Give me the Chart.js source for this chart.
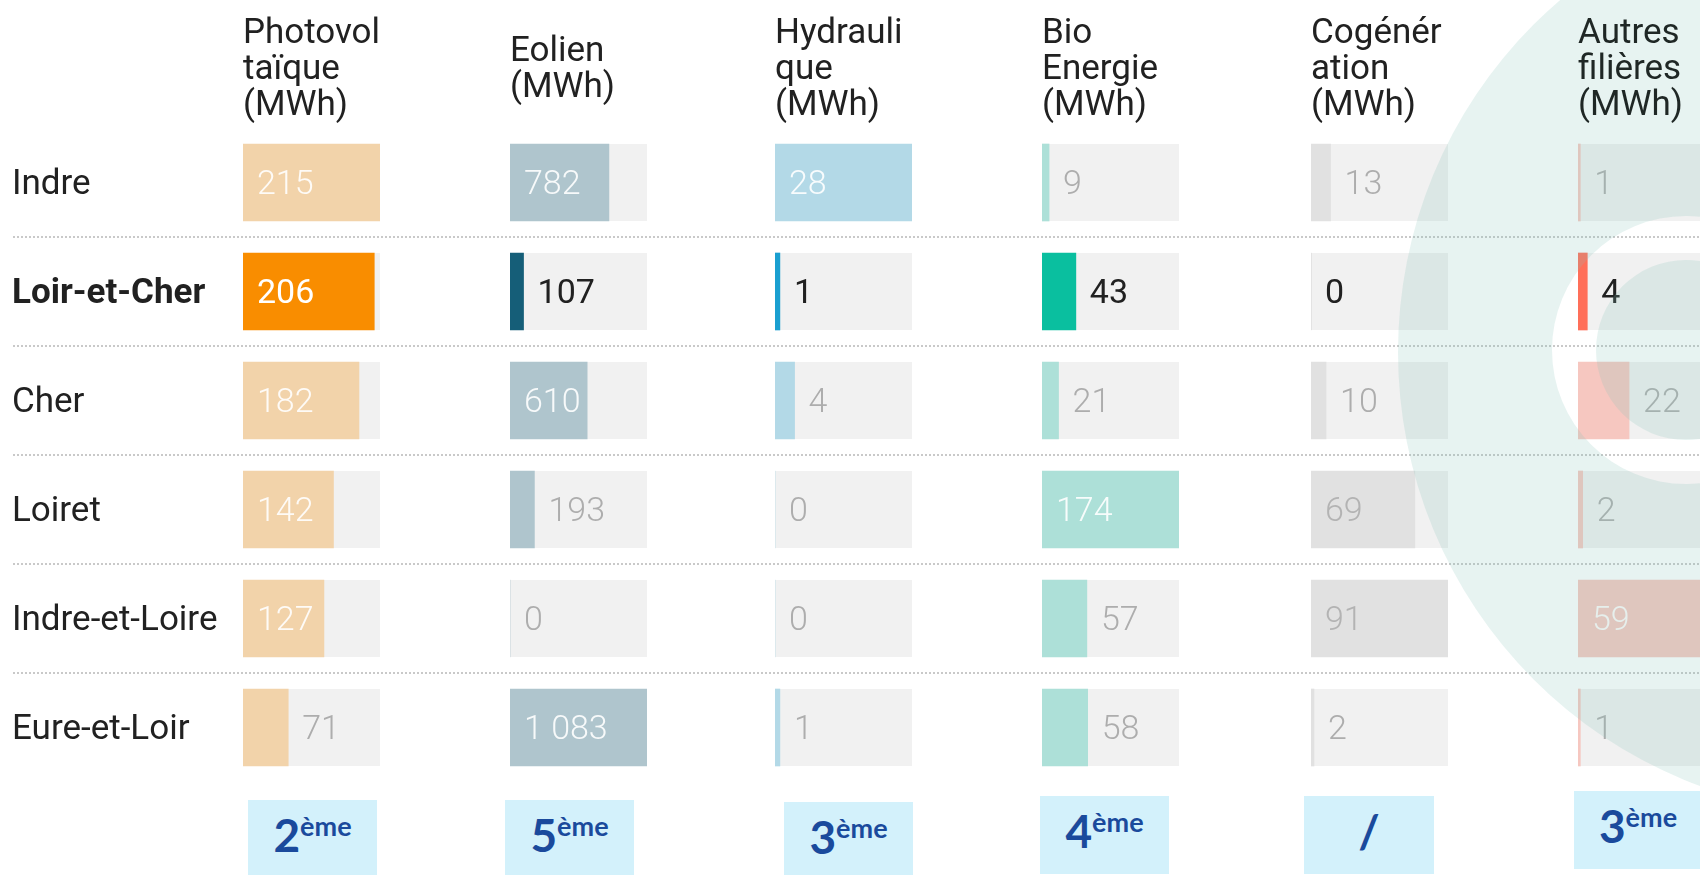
<!DOCTYPE html>
<html lang="fr">
<head>
<meta charset="utf-8">
<script src="https://cdn.jsdelivr.net/npm/chart.js@4.4.1/dist/chart.umd.min.js"></script>
<style>
html,body{margin:0;padding:0;background:#fff;}
body{width:1700px;height:875px;overflow:hidden;position:relative;font-family:Roboto,sans-serif;}
canvas{position:absolute;top:0;}
#main{left:0;z-index:3;}
canvas.col{z-index:1;}
.rank{position:absolute;z-index:2;background:#d3f1fb;color:#1a4a9c;font-family:Lato,sans-serif;font-weight:700;text-align:center;box-sizing:border-box;padding-top:12px;line-height:46px;font-size:46px;white-space:nowrap;}
.rank sup{font-size:27px;vertical-align:16px;line-height:0;}
</style>
</head>
<body>
<canvas id="main" width="1700" height="875"></canvas>
<script>
// ---------------- DATA ----------------
const departments = ['Indre', 'Loir-et-Cher', 'Cher', 'Loiret', 'Indre-et-Loire', 'Eure-et-Loir'];
const highlighted = 'Loir-et-Cher';

const photovoltaique = [215, 206, 182, 142, 127, 71];
const eolien         = [782, 107, 610, 193, 0, 1083];
const hydraulique    = [28, 1, 4, 0, 0, 1];
const bioEnergie     = [9, 43, 21, 174, 57, 58];
const cogeneration   = [13, 0, 10, 69, 91, 2];
const autresFilieres = [1, 4, 22, 2, 59, 1];

const columnHeaders = [
  ['Photovol', 'taïque', '(MWh)'],
  ['Eolien', '(MWh)'],
  ['Hydrauli', 'que', '(MWh)'],
  ['Bio', 'Energie', '(MWh)'],
  ['Cogénér', 'ation', '(MWh)'],
  ['Autres', 'filières', '(MWh)']
];

const rankNumbers  = ['2', '5', '3', '4', '/', '3'];
const rankSuffixes = ['ème', 'ème', 'ème', 'ème', '', 'ème'];

// ---------------- LAYOUT / STYLE ----------------
const series = [photovoltaique, eolien, hydraulique, bioEnergie, cogeneration, autresFilieres];
const columnStyles = [
  {left: 243,  strong: '#f98d00', light: '#f2d3aa', inText: 'rgba(255,255,255,0.9)', titleColor: '#212121'},
  {left: 510,  strong: '#155e78', light: '#afc5cd', inText: 'rgba(255,255,255,0.9)', titleColor: '#212121'},
  {left: 775,  strong: '#1a9fd0', light: '#b3d9e7', inText: 'rgba(255,255,255,0.9)', titleColor: '#212121'},
  {left: 1042, strong: '#0abf9f', light: '#ade0d8', inText: 'rgba(255,255,255,0.9)', titleColor: '#212121'},
  {left: 1311, strong: '#c8c8c8', light: '#e1e1e1', inText: '#b3b3b3', titleColor: '#212121'},
  {left: 1578, strong: '#ff6f59', light: '#f6c7c0', inText: 'rgba(255,255,255,0.9)', titleColor: '#060000'}
];
const rankBoxes = [
  [248, 800, 129, 75], [505, 800, 129, 75], [784, 802, 129, 73],
  [1040, 796, 129, 78], [1304, 796, 130, 78], [1574, 791, 128, 78]
];
const TRACK_W = 137, AREA_TOP = 128, AREA_BOTTOM_PAD = 93, BAR_H = 77, LINE_H = 36.2;
const TITLE_PAD_TOP = 16, TEXT_SHIFT = 3;
const TRACK_COLOR = '#f1f1f1';

function fmt(v) { return String(v).replace(/\B(?=(\d{3})+(?!\d))/g, ' '); }

const trackPlugin = {
  id: 'track',
  beforeDatasetsDraw(chart) {
    const {ctx, chartArea} = chart;
    const meta = chart.getDatasetMeta(0);
    ctx.save();
    ctx.fillStyle = TRACK_COLOR;
    meta.data.forEach(el => {
      ctx.fillRect(chartArea.left, el.y - el.height / 2, chartArea.right - chartArea.left, el.height);
    });
    ctx.restore();
  }
};

function valuePlugin(st) {
  return {
    id: 'values',
    afterDatasetsDraw(chart) {
      const {ctx} = chart;
      const ds = chart.data.datasets[0];
      const max = chart.scales.x.max;
      const meta = chart.getDatasetMeta(0);
      ctx.save();
      ctx.textBaseline = 'middle';
      ctx.textAlign = 'left';
      meta.data.forEach((el, i) => {
        const v = ds.data[i];
        const hi = departments[i] === highlighted;
        const inside = v / max > 0.5;
        ctx.font = (hi ? '400' : '300') + ' 34px Roboto';
        let x;
        if (inside) {
          x = el.base + 14;
          ctx.fillStyle = hi ? '#ffffff' : st.inText;
        } else {
          x = el.x + 14;
          ctx.fillStyle = hi ? '#212121' : '#adadad';
        }
        ctx.fillText(fmt(v), x, el.y + TEXT_SHIFT);
      });
      ctx.restore();
    }
  };
}

series.forEach((values, c) => {
  const st = columnStyles[c];
  const cv = document.createElement('canvas');
  cv.width = TRACK_W; cv.height = 875;
  cv.className = 'col';
  cv.style.left = st.left + 'px';
  document.body.appendChild(cv);
  const extra = (3 - columnHeaders[c].length) * LINE_H / 2;
  new Chart(cv, {
    type: 'bar',
    data: {
      labels: departments,
      datasets: [{
        data: values,
        backgroundColor: ctx => departments[ctx.dataIndex] === highlighted ? st.strong : st.light,
        barThickness: BAR_H,
        borderWidth: 0,
        borderSkipped: false
      }]
    },
    options: {
      indexAxis: 'y', responsive: false, animation: false, events: [],
      layout: {padding: {left: 0, right: 0, top: 0, bottom: AREA_BOTTOM_PAD}},
      scales: {
        x: {type: 'linear', min: 0, max: Math.max(...values), display: false},
        y: {type: 'category', offset: true, display: false}
      },
      plugins: {
        legend: {display: false},
        tooltip: {enabled: false},
        title: {
          display: true, text: columnHeaders[c], align: 'start', color: st.titleColor,
          font: {family: 'Roboto', size: 35, weight: 'normal', lineHeight: LINE_H + 'px'},
          padding: {top: TITLE_PAD_TOP + extra, bottom: AREA_TOP - TITLE_PAD_TOP - 3 * LINE_H + extra}
        }
      }
    },
    plugins: [trackPlugin, valuePlugin(st)]
  });
});

// rank boxes
rankNumbers.forEach((n, i) => {
  const [x, y, w, h] = rankBoxes[i];
  const d = document.createElement('div');
  d.className = 'rank';
  d.style.left = x + 'px'; d.style.top = y + 'px';
  d.style.width = w + 'px'; d.style.height = h + 'px';
  d.appendChild(document.createTextNode(n));
  if (rankSuffixes[i]) {
    const s = document.createElement('sup');
    s.textContent = rankSuffixes[i];
    d.appendChild(s);
  }
  document.body.appendChild(d);
});

const separatorPlugin = {
  id: 'separators',
  afterDraw(chart) {
    const {ctx} = chart;
    const y = chart.scales.y;
    ctx.save();
    ctx.strokeStyle = '#c9c9c9';
    ctx.lineWidth = 2;
    ctx.setLineDash([2, 2]);
    for (let i = 0; i < departments.length - 1; i++) {
      const yy = Math.round((y.getPixelForTick(i) + y.getPixelForTick(i + 1)) / 2);
      ctx.beginPath();
      ctx.moveTo(13, yy);
      ctx.lineTo(1700, yy);
      ctx.stroke();
    }
    ctx.restore();
  }
};

const logoPlugin = {
  id: 'logo',
  afterDraw(chart) {
    const {ctx} = chart;
    ctx.save();
    ctx.fillStyle = 'rgba(135,195,185,0.2)';
    ctx.beginPath();
    ctx.arc(1861, 352, 463, 0, Math.PI * 2);
    ctx.moveTo(1686 + 134, 350);
    ctx.arc(1686, 350, 134, 0, Math.PI * 2);
    ctx.moveTo(1686 + 90, 350);
    ctx.arc(1686, 350, 90, 0, Math.PI * 2);
    ctx.fill('evenodd');
    ctx.restore();
  }
};

new Chart(document.getElementById('main'), {
  type: 'bar',
  data: {labels: departments, datasets: []},
  options: {
    indexAxis: 'y', responsive: false, animation: false, events: [],
    layout: {padding: {left: 12, right: 0, top: AREA_TOP, bottom: AREA_BOTTOM_PAD}},
    scales: {
      x: {type: 'linear', display: false},
      y: {
        type: 'category', offset: true, position: 'left',
        grid: {display: false}, border: {display: false},
        ticks: {
          crossAlign: 'far', padding: 0, color: '#212121', labelOffset: TEXT_SHIFT,
          font: ctx => ({family: 'Roboto', size: 35, weight: departments[ctx.index] === highlighted ? 'bold' : 'normal'})
        }
      }
    },
    plugins: {legend: {display: false}, tooltip: {enabled: false}, title: {display: false}}
  },
  plugins: [separatorPlugin, logoPlugin]
});
</script>
</body>
</html>
